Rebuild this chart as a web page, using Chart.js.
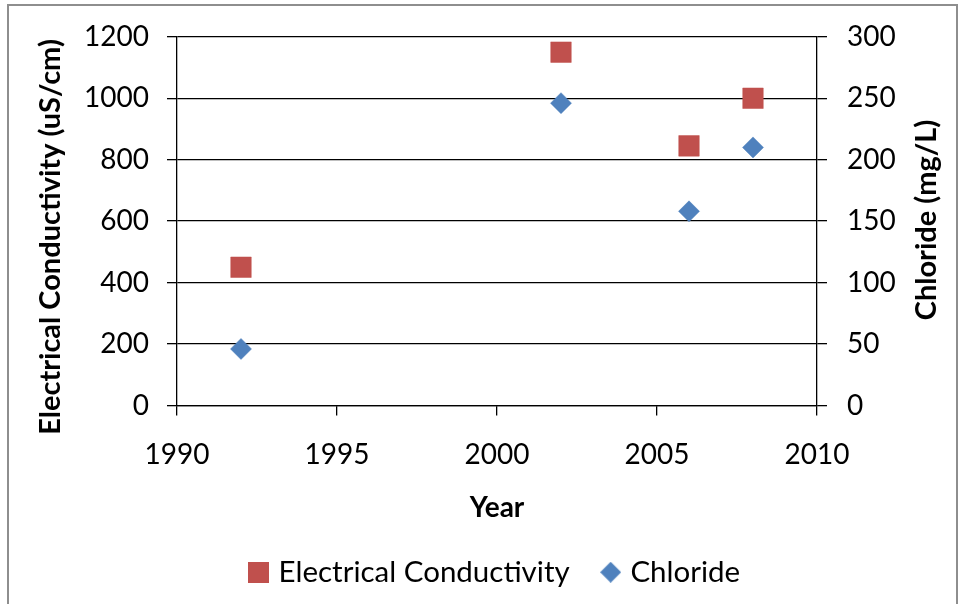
<!DOCTYPE html>
<html><head><meta charset="utf-8">
<script src="https://cdn.jsdelivr.net/npm/chart.js@4/dist/chart.umd.min.js"></script>
<style>html,body{margin:0;padding:0;background:#fff;}canvas{display:block}</style>
</head><body>
<canvas id="c" width="959" height="604"></canvas>
<script>
// ---- data ----
const ecYears = [1992, 2002, 2006, 2008];
const conductivity = [450, 1150, 845, 1000];
const clYears = [1992, 2002, 2006, 2008];
const chloride = [46, 246, 158, 210];
const xTicks = [1990, 1995, 2000, 2005, 2010];
const yLeftTicks = [0, 200, 400, 600, 800, 1000, 1200];
const yRightTicks = [0, 50, 100, 150, 200, 250, 300];
const seriesNames = ['Electrical Conductivity', 'Chloride'];
const xTitle = 'Year';
const yLeftTitle = 'Electrical Conductivity (uS/cm)';
const yRightTitle = 'Chloride (mg/L)';

const RED = '#C0504D', BLUE = '#4F81BD';
Chart.defaults.font.family = 'Lato';

function marker(kind, color, size) {
  const c = document.createElement('canvas');
  c.width = size; c.height = size;
  const g = c.getContext('2d');
  g.fillStyle = color;
  if (kind === 'square') g.fillRect(0, 0, size, size);
  else { g.beginPath(); g.moveTo(size/2, 0); g.lineTo(size, size/2); g.lineTo(size/2, size); g.lineTo(0, size/2); g.closePath(); g.fill(); }
  return c;
}
const legendMarkers = [marker('square', RED, 21), marker('diamond', BLUE, 21)];

const decor = {
  id: 'decor',
  beforeDraw(chart) {
    const ctx = chart.ctx; ctx.save(); ctx.fillStyle = '#fff'; ctx.fillRect(0, 0, chart.width, chart.height); ctx.restore();
  },
  afterDraw(chart) {
    const ctx = chart.ctx;
    ctx.save();
    ctx.strokeStyle = '#8e8e8e'; ctx.lineWidth = 2;
    ctx.strokeRect(8, 5, 949, 640);
    ctx.fillStyle = '#000';
    ctx.textAlign = 'center'; ctx.textBaseline = 'alphabetic';
    ctx.font = '700 29px Lato';
    ctx.save(); ctx.translate(60, 237); ctx.rotate(-Math.PI/2); ctx.fillText(yLeftTitle, 0, 0); ctx.restore();
    ctx.save(); ctx.translate(936, 220); ctx.rotate(-Math.PI/2); ctx.fillText(yRightTitle, 0, 0); ctx.restore();
    ctx.restore();
  }
};

const axisCommon = (ticksArr) => ({
  afterBuildTicks: s => { s.ticks = ticksArr.map(v => ({value: v})); }
});

new Chart(document.getElementById('c'), {
  type: 'scatter',
  data: {
    datasets: [
      { label: seriesNames[0], data: ecYears.map((x, i) => ({x, y: conductivity[i]})), yAxisID: 'y',
        pointStyle: 'rect', pointRadius: 14.5, pointHoverRadius: 14.5, backgroundColor: RED, borderColor: RED, borderWidth: 0.5 },
      { label: seriesNames[1], data: clYears.map((x, i) => ({x, y: chloride[i]})), yAxisID: 'y1',
        pointStyle: 'rectRot', pointRadius: 10.5, pointHoverRadius: 10.5, backgroundColor: BLUE, borderColor: BLUE, borderWidth: 0.5 }
    ]
  },
  options: {
    responsive: false, animation: false, devicePixelRatio: 1,
    layout: { padding: { top: 33, left: 0, right: 0, bottom: 7 } },
    plugins: {
      tooltip: { enabled: false },
      legend: {
        position: 'bottom', fullSize: false,
        labels: {
          usePointStyle: true, boxWidth: 10, boxHeight: 10, padding: 36, color: '#000', font: { size: 29.5 },
          generateLabels: chart => chart.data.datasets.map((ds, i) => ({
            text: ds.label, fillStyle: ds.backgroundColor, strokeStyle: ds.backgroundColor, lineWidth: 0,
            pointStyle: legendMarkers[i], hidden: false, datasetIndex: i, fontColor: '#000'
          }))
        }
      }
    },
    scales: {
      x: Object.assign(axisCommon(xTicks), {
        type: 'linear', min: 1990, max: 2010,
        afterFit: s => { s.height = 116; },
        grid: { drawOnChartArea: false, drawTicks: true, tickLength: 10, color: '#000', lineWidth: 1.3 },
        border: { display: true, color: '#000', width: 1.3 },
        ticks: { padding: 23, color: '#000', font: { size: 28 }, callback: v => String(v), maxRotation: 0, autoSkip: false },
        title: { display: true, text: xTitle, color: '#000', font: { size: 28, weight: 'bold', lineHeight: 1 }, padding: { top: 0, bottom: 0 } }
      }),
      y: Object.assign(axisCommon(yLeftTicks), {
        position: 'left', min: 0, max: 1200,
        afterFit: s => { s.width = 177; },
        grid: { color: '#000', lineWidth: 1.3, tickLength: 10 },
        border: { display: true, color: '#000', width: 1.3 },
        ticks: { padding: 18, color: '#000', font: { size: 28 }, callback: v => String(v), autoSkip: false }
      }),
      y1: Object.assign(axisCommon(yRightTicks), {
        position: 'right', min: 0, max: 300,
        afterFit: s => { s.width = 142; },
        grid: { drawOnChartArea: false, color: '#000', lineWidth: 1.3, tickLength: 10 },
        border: { display: true, color: '#000', width: 1.3 },
        ticks: { padding: 20, color: '#000', font: { size: 28 }, callback: v => String(v), autoSkip: false }
      })
    }
  },
  plugins: [decor]
});
</script>
</body></html>
